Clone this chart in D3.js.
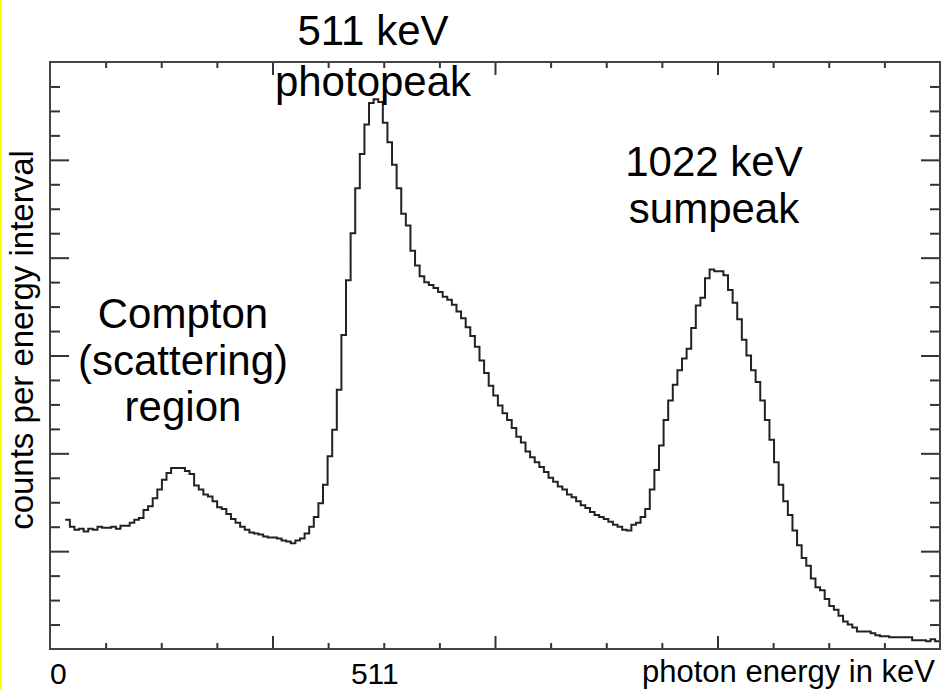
<!DOCTYPE html>
<html><head><meta charset="utf-8">
<script src="https://cdn.jsdelivr.net/npm/d3@7/dist/d3.min.js"></script>
<style>body{margin:0;background:#fff}svg{display:block}</style>
</head><body>
<svg id="chart" width="942" height="690"></svg>
<script>
// ---- data ----
const counts = [
132,125,122,123,120,123,122,125,124,124,125,123,126,126,129,132,134,142,146,154,
163,173,180,185,185,185,182,179,167,163,158,156,151,145,143,138,133,129,125,122,
119,118,117,115,114,114,113,111,110,108,111,113,118,125,135,149,168,197,224,265,
321,377,425,471,506,536,558,562,559,538,518,495,471,445,433,407,392,381,375,372,
369,365,360,357,352,345,338,329,320,309,295,282,269,259,249,241,234,226,217,211,
202,196,191,186,181,175,171,166,163,158,155,151,147,144,140,137,135,133,130,127,
125,122,121,127,129,135,143,163,183,208,234,254,270,285,297,307,328,351,359,379,
388,386,386,382,367,354,337,316,300,285,273,254,234,214,191,168,151,137,121,106,
93,85,72,63,60,51,44,40,34,28,25,22,18,18,18,16,14,13,13,12,
12,12,12,12,9,9,9,8,10,8
];
const binStartKeV = 24;
const binWidthKeV = 7.24;
const xDomainKeV = [0, 1400];
const yDomainCounts = [0, 600];
const xTickStep = 87.5;      // keV between x ticks
const yTickStep = 25;        // counts between y ticks
const xMajorEvery = 4, yMajorEvery = 4;
const xTickLabels = [{value: 0, text: "0"}, {value: 511, text: "511"}];
const xTitle = "photon energy in keV";
const yTitle = "counts per energy interval";
const noteLines = [
  ["511 keV", "photopeak"],
  ["1022 keV", "sumpeak"],
  ["Compton", "(scattering)", "region"]
];

// ---- layout ----
const svg = d3.select("#chart");
const W = 942, H = 690;
const m = {left: 50, right: 2, top: 62, bottom: 41};
const x = d3.scaleLinear().domain(xDomainKeV).range([m.left, W - m.right]);
const y = d3.scaleLinear().domain(yDomainCounts).range([H - m.bottom, m.top]);
const FONT = "'Liberation Sans', Arial, Helvetica, sans-serif";

svg.append("rect").attr("x", 0).attr("y", 0).attr("width", W).attr("height", H).attr("fill", "#fff");
svg.append("rect").attr("x", 0).attr("y", 0).attr("width", 2).attr("height", H).attr("fill", "#ffff00");

const xTicks = d3.range(0, Math.round((xDomainKeV[1] - xDomainKeV[0]) / xTickStep) + 1).map(i => xDomainKeV[0] + i * xTickStep);
const yTicks = d3.range(0, Math.round((yDomainCounts[1] - yDomainCounts[0]) / yTickStep) + 1).map(i => yDomainCounts[0] + i * yTickStep);
const xMinor = xTicks.filter((d, i) => i % xMajorEvery !== 0);
const xMajor = xTicks.filter((d, i) => i % xMajorEvery === 0 && i > 0 && i < xTicks.length - 1);
const yMinor = yTicks.filter((d, i) => i % yMajorEvery !== 0);
const yMajor = yTicks.filter((d, i) => i % yMajorEvery === 0 && i > 0 && i < yTicks.length - 1);

function axis(gen, pos, values, size) {
  const g = svg.append("g").attr("transform", pos)
    .call(gen.tickValues(values).tickSize(size).tickFormat(""));
  g.select(".domain").remove();
  g.selectAll(".tick line").attr("stroke", "#333").attr("stroke-width", 2);
}
const bottomY = y.range()[0], topY = y.range()[1];
const leftX = x.range()[0], rightX = x.range()[1];
axis(d3.axisBottom(x), `translate(0,${bottomY})`, xMinor, -6);
axis(d3.axisBottom(x), `translate(0,${bottomY})`, xMajor, -13);
axis(d3.axisTop(x), `translate(0,${topY})`, xMinor, -6);
axis(d3.axisTop(x), `translate(0,${topY})`, xMajor, -13);
axis(d3.axisLeft(y), `translate(${leftX},0)`, yMinor, -10);
axis(d3.axisLeft(y), `translate(${leftX},0)`, yMajor, -19);
axis(d3.axisRight(y), `translate(${rightX},0)`, yMinor, -10);
axis(d3.axisRight(y), `translate(${rightX},0)`, yMajor, -19);

// histogram
const pts = counts.map((c, i) => [binStartKeV + i * binWidthKeV, c]);
pts.push([binStartKeV + counts.length * binWidthKeV, counts[counts.length - 1]]);
const line = d3.line().curve(d3.curveStepAfter).x(d => x(d[0])).y(d => y(d[1]));
svg.append("defs").append("clipPath").attr("id", "clip")
  .append("rect").attr("x", leftX).attr("y", topY).attr("width", rightX - leftX).attr("height", bottomY - topY);
svg.append("path").attr("d", line(pts)).attr("fill", "none")
  .attr("stroke", "#222").attr("stroke-width", 2).attr("clip-path", "url(#clip)");

// frame
svg.append("rect").attr("x", leftX).attr("y", topY).attr("width", rightX - leftX).attr("height", bottomY - topY)
  .attr("fill", "none").attr("stroke", "#444").attr("stroke-width", 2);

// tick labels
svg.selectAll(".xl").data(xTickLabels).join("text")
  .attr("x", d => x(d.value)).attr("y", 684)
  .attr("text-anchor", d => d.value === xDomainKeV[0] ? "start" : "middle")
  .attr("font-family", FONT).attr("font-size", 30).attr("fill", "#000").text(d => d.text);
svg.append("text").attr("x", rightX - 5).attr("y", 682).attr("text-anchor", "end")
  .attr("font-family", FONT).attr("font-size", 31).attr("fill", "#000").text(xTitle);
svg.append("text").attr("transform", `translate(33,340) rotate(-90)`).attr("text-anchor", "middle")
  .attr("font-family", FONT).attr("font-size", 33).attr("fill", "#000").text(yTitle);

// annotations
const notePos = [
  {cx: 373, y0: 45, dy: 51},
  {cx: 714, y0: 176, dy: 47},
  {cx: 183, y0: 328, dy: 46.5}
];
noteLines.forEach((lines, k) => {
  const p = notePos[k];
  lines.forEach((t, j) => {
    svg.append("text").attr("x", p.cx).attr("y", p.y0 + j * p.dy).attr("text-anchor", "middle")
      .attr("font-family", FONT).attr("font-size", 42).attr("fill", "#000").text(t);
  });
});
</script>
</body></html>
